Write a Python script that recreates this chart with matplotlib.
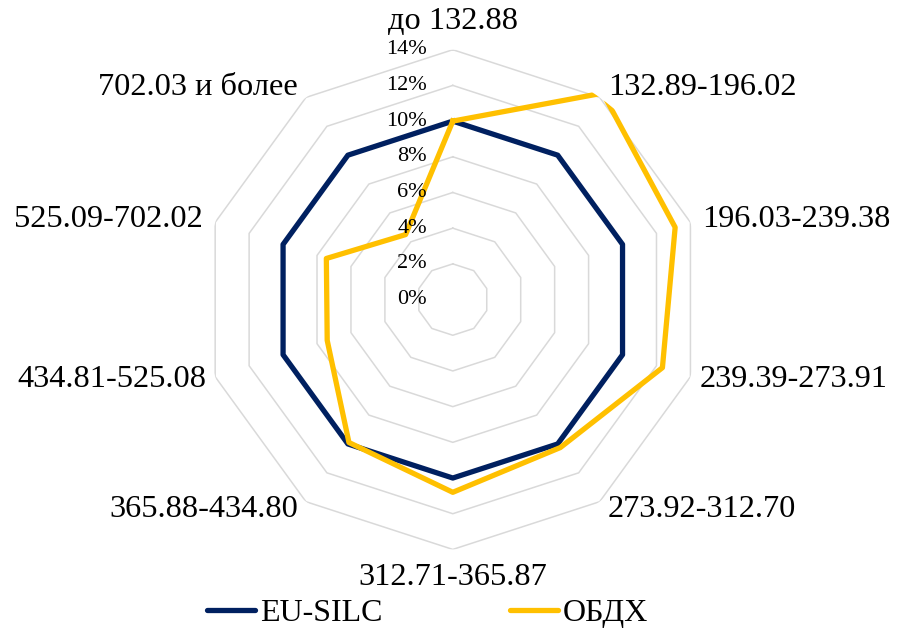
import numpy as np
import matplotlib
matplotlib.use("Agg")
import matplotlib.pyplot as plt
from matplotlib.transforms import offset_copy
from matplotlib.lines import Line2D

categories = ["до 132.88", "132.89-196.02", "196.03-239.38", "239.39-273.91",
              "273.92-312.70", "312.71-365.87", "365.88-434.80", "434.81-525.08",
              "525.09-702.02", "702.03 и более"]
eu_silc = [10.0, 10.0, 10.0, 10.0, 10.0, 10.0, 10.0, 10.0, 10.0, 10.0]
obdh = [10.0, 14.3, 13.1, 12.35, 10.25, 10.8, 9.9, 7.4, 7.45, 4.5]
ticks = [0, 2, 4, 6, 8, 10, 12, 14]
tick_labels = ["0%", "2%", "4%", "6%", "8%", "10%", "12%", "14%"]
series_names = ["EU-SILC", "ОБДХ"]

plt.rcParams['font.family'] = ['Liberation Serif', 'DejaVu Serif']

fig = plt.figure(figsize=(9.02, 6.34), dpi=100)
ax = fig.add_axes([0.225, 0.133, 0.554, 0.789], projection='polar')
ax.set_theta_zero_location('N')
ax.set_theta_direction(-1)
ax.set_ylim(0, 14)
ax.grid(False)
ax.spines['polar'].set_visible(False)
ax.set_xticks([])
ax.set_yticks([])
ax.patch.set_alpha(0)

n = len(categories)
theta = np.arange(n) * 2 * np.pi / n
theta_c = np.append(theta, theta[0])

for t in ticks[1:]:
    ax.plot(theta_c, [t] * (n + 1), color='#d9d9d9', lw=1.1, zorder=1)

for i, lab in enumerate(tick_labels):
    tr = offset_copy(ax.transData, fig=fig, x=-26, y=0, units='dots')
    ax.text(0, ticks[i], lab, transform=tr, ha='right', va='center', fontsize=16, zorder=5)

ax.plot(theta_c, eu_silc + [eu_silc[0]], color='#002060', lw=3.8, zorder=3,
        solid_joinstyle='round')
ax.plot(theta_c, obdh + [obdh[0]], color='#FFC000', lw=3.8, zorder=4,
        solid_joinstyle='round')

# label placement offsets (pixels) relative to outer ring vertex
offs = [(0, 28, 'center'), (8, 10, 'left'), (12, 3, 'left'), (9, -3, 'left'),
        (8, -8, 'left'), (0, -28, 'center'), (-8, -8, 'right'), (-9, -3, 'right'),
        (-12, 3, 'right'), (-8, 10, 'right')]
for i, lab in enumerate(categories):
    dx, dy, ha = offs[i]
    tr = offset_copy(ax.transData, fig=fig, x=dx, y=dy, units='dots')
    ax.text(theta[i], 14, lab, transform=tr, ha=ha, va='center', fontsize=23.3)

handles = [Line2D([], [], color='#002060', lw=3.8, solid_capstyle='round'),
           Line2D([], [], color='#FFC000', lw=3.8, solid_capstyle='round')]
fig.legend(handles, series_names, loc='center', bbox_to_anchor=(0.474, 0.033),
           ncol=2, frameon=False, fontsize=23, handlelength=1.5,
           handletextpad=0.15, columnspacing=4.0, borderpad=0, borderaxespad=0)

fig.savefig('out.png', dpi=100)
